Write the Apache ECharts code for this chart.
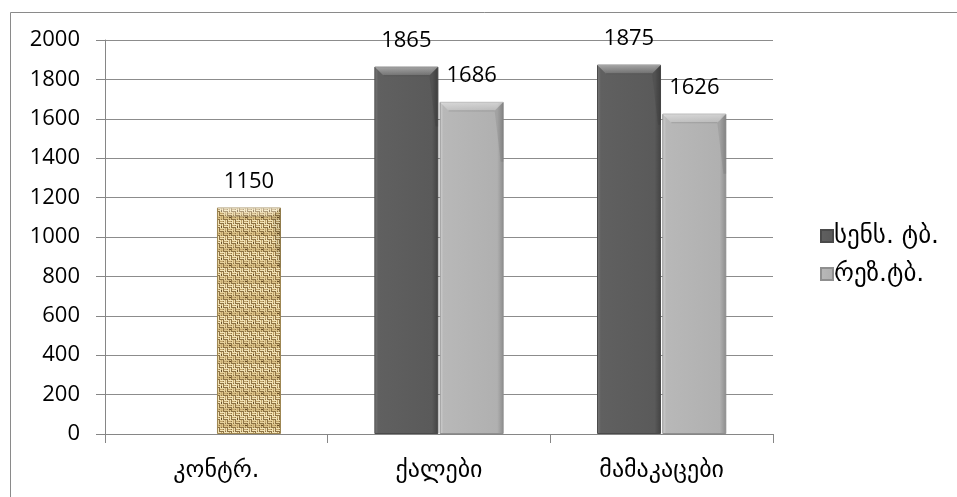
<!DOCTYPE html>
<html>
<head>
<meta charset="utf-8">
<script src="https://cdn.jsdelivr.net/npm/echarts@6/dist/echarts.min.js"></script>
<style>
  html, body { margin: 0; padding: 0; background: #fff; }
  #chart { width: 957px; height: 497px; }
</style>
</head>
<body>
<div id="chart"></div>
<script>
// Categories and series values
const categories = ['კონტრ.', 'ქალები', 'მამაკაცები'];
const seriesNames = ['სენს. ტბ.', 'რეზ.ტბ.'];
const sensValues = [null, 1865, 1875];
const rezValues = [1150, 1686, 1626];
const yTicks = { min: 0, max: 2000, interval: 200 };

const numFont = '"Open Sans", "Liberation Sans", sans-serif';
const geoFont = '"DejaVu Sans", sans-serif';
const BAR_W = 64;
const GAP_PCT = 2;

// Woven burlap texture used for the control bar
function burlapPattern() {
  const c = document.createElement('canvas');
  const s = 16;
  c.width = s; c.height = s;
  const g = c.getContext('2d');
  g.fillStyle = '#8e7344';
  g.fillRect(0, 0, s, s);
  // 4x4 cells of alternating horizontal / vertical threads
  for (let by = 0; by < 4; by++) {
    for (let bx = 0; bx < 4; bx++) {
      const x0 = bx * 4, y0 = by * 4;
      const horiz = (bx + by) % 2 === 0;
      const shade = ((bx * 3 + by) % 3);
      const light = ['#f2e3b6', '#e8d49f', '#dcc48a'][shade];
      g.fillStyle = light;
      if (horiz) { g.fillRect(x0, y0, 4, 1); g.fillRect(x0, y0 + 2, 4, 1); }
      else { g.fillRect(x0, y0, 1, 4); g.fillRect(x0 + 2, y0, 1, 4); }
      g.fillStyle = '#c4a66c';
      if (horiz) g.fillRect(x0, y0 + 1, 3, 1);
      else g.fillRect(x0 + 1, y0, 1, 3);
    }
  }
  g.fillStyle = '#6a5029';
  g.fillRect(5, 9, 2, 1);
  g.fillRect(13, 2, 1, 2);
  return c;
}

function hGrad(stops) {
  return new echarts.graphic.LinearGradient(0, 0, 1, 0,
    stops.map(([o, col]) => ({ offset: o, color: col })));
}

const darkFill = hGrad([[0, '#7b7b7b'], [0.06, '#606060'], [0.9, '#5a5a5a'], [1, '#424242']]);
const lightFill = hGrad([[0, '#d2d2d2'], [0.06, '#b8b8b8'], [0.9, '#b0b0b0'], [1, '#8c8c8c']]);

const rezData = rezValues.map((v, i) => i === 0
  ? { value: v, itemStyle: { color: { image: burlapPattern(), repeat: 'repeat' }, borderColor: '#9c8450', borderWidth: 1 } }
  : v);

const labelStyle = {
  show: true, position: 'top', distance: 15,
  fontFamily: numFont, fontSize: 22, color: '#000'
};

// Top bevel drawn over each bar, positioned through the axis scales
function bevelSeries(values, seriesIdx) {
  return {
    type: 'custom', silent: true, z: 5,
    data: values.map((v, i) => (v == null ? null : [i, v])).filter(d => d),
    renderItem(params, api) {
      const top = api.coord([api.value(0), api.value(1)]);
      const gapPx = BAR_W * GAP_PCT / 100;
      const cx = top[0] + (seriesIdx === 0 ? -1 : 1) * (BAR_W + gapPx) / 2;
      const L = cx - BAR_W / 2, R = cx + BAR_W / 2, T = top[1], b = 9;
      return {
        type: 'group',
        children: [
          {
            type: 'polygon',
            shape: { points: [[L, T], [R, T], [R - b, T + b], [L + b, T + b]] },
            style: {
              fill: new echarts.graphic.LinearGradient(0, 0, 0, 1, [
                { offset: 0, color: 'rgba(255,255,255,0.45)' },
                { offset: 1, color: 'rgba(255,255,255,0.12)' }
              ])
            }
          },
          {
            type: 'polyline',
            shape: { points: [[L + b, T + b], [R - b, T + b]] },
            style: { stroke: 'rgba(0,0,0,0.15)', lineWidth: 1, fill: null }
          },
          {
            type: 'polygon',
            shape: { points: [[R, T], [R, T + 60], [R - 3, T + 60], [R - b, T + b]] },
            style: { fill: 'rgba(0,0,0,0.08)' }
          }
        ]
      };
    }
  };
}

const chart = echarts.init(document.getElementById('chart'), null, { renderer: 'canvas' });
chart.setOption({
  animation: false,
  backgroundColor: '#fff',
  graphic: [{
    type: 'rect', left: 8, top: 10, z: -1,
    shape: { width: 960, height: 500 },
    style: { fill: 'none', stroke: '#8a8a8a', lineWidth: 1 }
  }],
  grid: { left: 105, right: 184, top: 40, bottom: 63, containLabel: false },
  legend: {
    orient: 'vertical', left: 815, top: 218, itemGap: 12,
    itemWidth: 12, itemHeight: 12, icon: 'rect',
    textStyle: { fontFamily: geoFont, fontSize: 25, lineHeight: 26, color: '#000', padding: [0, 0, 0, -4] },
    data: seriesNames
  },
  xAxis: {
    type: 'category', data: categories,
    axisLine: { lineStyle: { color: '#868686' } },
    axisTick: { show: true, length: 9, lineStyle: { color: '#868686' } },
    axisLabel: { fontFamily: geoFont, fontSize: 24, color: '#000', margin: 25 }
  },
  yAxis: {
    type: 'value', min: yTicks.min, max: yTicks.max, interval: yTicks.interval,
    axisLine: { show: true, lineStyle: { color: '#868686' } },
    axisTick: { show: true, length: 9, lineStyle: { color: '#868686' } },
    splitLine: { lineStyle: { color: '#8c8c8c', width: 1 } },
    axisLabel: { fontFamily: numFont, fontSize: 22, color: '#000', margin: 25, formatter: v => String(v) }
  },
  series: [
    {
      name: seriesNames[0], type: 'bar', data: sensValues,
      barWidth: BAR_W, barGap: GAP_PCT + '%',
      itemStyle: { color: darkFill, borderColor: '#4a4a4a', borderWidth: 1 },
      label: labelStyle
    },
    {
      name: seriesNames[1], type: 'bar', data: rezData,
      barWidth: BAR_W,
      itemStyle: { color: lightFill, borderColor: '#8f8f8f', borderWidth: 1 },
      label: labelStyle
    },
    bevelSeries(sensValues, 0),
    bevelSeries(rezValues, 1)
  ]
});
</script>
</body>
</html>
